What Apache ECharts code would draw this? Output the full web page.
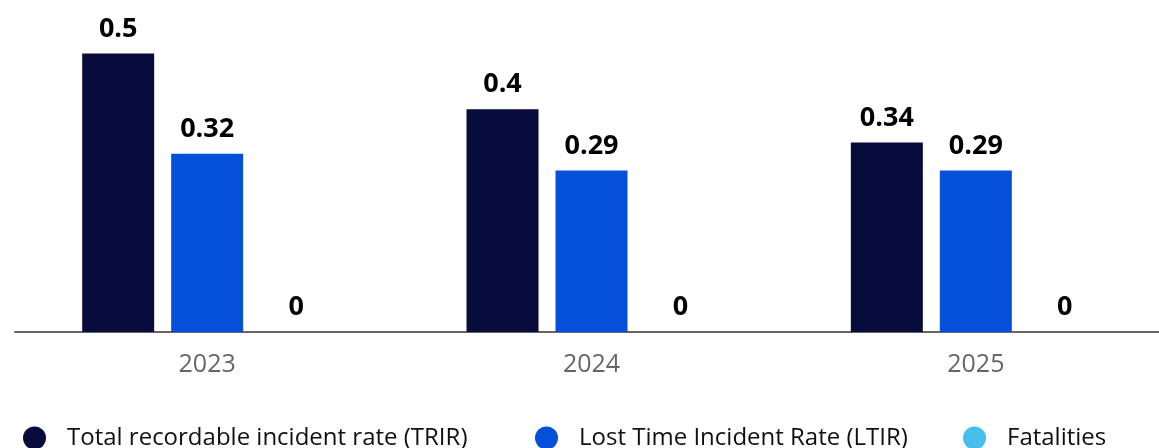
<!DOCTYPE html>
<html>
<head>
<meta charset="utf-8">
<script src="https://cdn.jsdelivr.net/npm/echarts@6/dist/echarts.min.js"></script>
<style>
html,body{margin:0;padding:0;background:#fff;}
#chart{width:1159px;height:448px;}
</style>
</head>
<body>
<div id="chart"></div>
<script>
const categories = ['2023', '2024', '2025'];
const seriesNames = ['Total recordable incident rate (TRIR)', 'Lost Time Incident Rate (LTIR)', 'Fatalities'];
const trir = [0.5, 0.4, 0.34];
const ltir = [0.32, 0.29, 0.29];
const fatalities = [0, 0, 0];
const colors = ['#070C3C', '#0450D8', '#45C0EC'];

const FONT = '"Open Sans", "Noto Sans", sans-serif';
const chart = echarts.init(document.getElementById('chart'));

function mkSeries(name, data, color) {
  return {
    name: name,
    type: 'bar',
    data: data,
    barWidth: 72,
    barGap: '23.6%',
    itemStyle: { color: color },
    label: {
      show: true,
      position: 'top',
      distance: 11,
      color: '#000',
      fontFamily: FONT,
      fontWeight: 'bold',
      fontSize: 27
    }
  };
}

function mkLegend(i, left) {
  return {
    left: left,
    top: 426,
    padding: 0,
    data: [seriesNames[i]],
    icon: 'circle',
    itemWidth: 23,
    itemHeight: 23,
    selectedMode: false,
    textStyle: {
      color: '#111',
      fontFamily: FONT,
      fontSize: 24,
      padding: [0, 0, 0, 16]
    }
  };
}

chart.setOption({
  animation: false,
  color: colors,
  grid: { left: 15, width: 1153, top: 0, bottom: 116, containLabel: false, outerBoundsMode: 'none' },
  legend: [mkLegend(0, 23), mkLegend(1, 535), mkLegend(2, 963)],
  xAxis: {
    type: 'category',
    data: categories,
    axisTick: { show: false },
    axisLine: { lineStyle: { color: '#666', width: 2 } },
    axisLabel: {
      color: '#666',
      fontFamily: FONT,
      fontSize: 25,
      margin: 20
    }
  },
  yAxis: {
    type: 'value',
    min: 0,
    max: 0.596,
    show: false,
    splitLine: { show: false }
  },
  series: [
    mkSeries(seriesNames[0], trir, colors[0]),
    mkSeries(seriesNames[1], ltir, colors[1]),
    mkSeries(seriesNames[2], fatalities, colors[2])
  ]
});
</script>
</body>
</html>
